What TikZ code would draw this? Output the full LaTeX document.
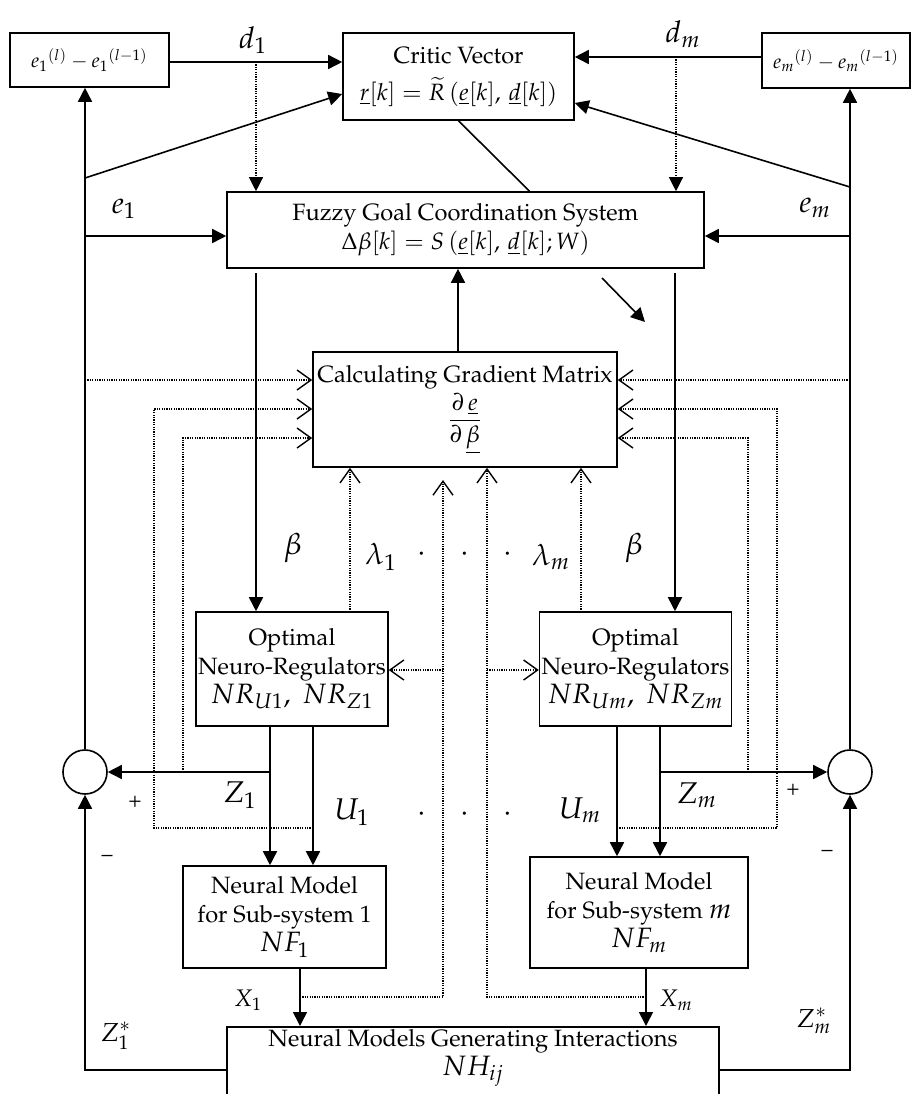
\documentclass[tikz,border=0pt]{standalone}
\usepackage[T1]{fontenc}
\usepackage{amsmath,amssymb}
\usepackage{mathpazo}
\usepackage{tikz}
\usetikzlibrary{arrows.meta,calc}
\newcommand{\blkfont}{\fontsize{11.8}{14.5}\selectfont}
\newcommand{\bigmath}{\fontsize{14}{16}\selectfont}
\tikzset{
  blk/.style={draw=black,line width=0.8pt,align=center,inner sep=1pt,font=\blkfont},
  sumnode/.style={circle,draw=black,line width=0.8pt,minimum size=22pt,inner sep=0pt},
  sline/.style={line width=0.8pt},
  sarr/.style={-{Triangle[length=7pt,width=7pt]},line width=0.8pt},
  dline/.style={line width=0.6pt,dash pattern=on 0.6pt off 0.6pt},
  dsarr/.style={dline,-{Triangle[length=7pt,width=7pt]}},
  darr/.style={dline,-{Straight Barb[length=7pt,width=10pt,line width=0.7pt]}},
  siglbl/.style={font={\fontsize{15}{17}\selectfont},inner sep=0pt},
  midlbl/.style={font={\fontsize{13}{15}\selectfont},inner sep=0pt},
  smlbl/.style={font={\fontsize{12}{14}\selectfont},inner sep=0pt},
  signlbl/.style={font={\fontsize{11}{13}\selectfont},inner sep=0pt},
}

\begin{document}
\begin{tikzpicture}[x=0.5pt,y=-0.5pt]
  \useasboundingbox (0,0) rectangle (912,1094);
  % top row
  \node[blk,minimum width=79.5pt,minimum height=27pt,font={\fontsize{10}{12}\selectfont}] (ed1) at (89.5,60)
    {$e_1{}^{(l)}-e_1{}^{(l-1)}$};
  \node[blk,minimum width=115.5pt,minimum height=43.5pt] (critic) at (458.5,76.5)
    {Critic Vector\\[4pt] $\underline{r}[k]=\widetilde{R}\,(\underline{e}[k],\,\underline{d}[k])$};
  \node[blk,minimum width=74pt,minimum height=27.5pt,font={\fontsize{10}{12}\selectfont}] (edm) at (836,60.5)
    {$e_m{}^{(l)}-e_m{}^{(l-1)}$};
  % coordination and gradient
  \node[blk,minimum width=238.5pt,minimum height=38pt] (fuzzy) at (465.5,230)
    {Fuzzy Goal Coordination System\\ $\Delta\beta[k]=S\,(\underline{e}[k],\,\underline{d}[k];W)$};
  \node[blk,minimum width=152pt,minimum height=57.5pt] (grad) at (465,409.5)
    {Calculating Gradient Matrix\\[1pt] $\dfrac{\partial\,\underline{e}}{\partial\,\underline{\beta}}$};
  % regulators
  \node[blk,minimum width=94pt,minimum height=57pt] (nr1) at (292,669)
    {Optimal\\ Neuro-Regulators\\ {\bigmath $NR_{U1},\ NR_{Z1}$}};
  \node[blk,minimum width=90.5pt,minimum height=57pt] (nrm) at (635.5,669)
    {Optimal\\ Neuro-Regulators\\ {\bigmath $NR_{Um},\ NR_{Zm}$}};
  % models
  \node[blk,minimum width=101.5pt,minimum height=51pt] (nf1) at (284.5,917)
    {Neural Model\\ for Sub-system 1\\ {\bigmath $NF_1$}};
  \node[blk,minimum width=109pt,minimum height=55.5pt] (nfm) at (639,912.5)
    {Neural Model\\ for Sub-system {\bigmath $m$}\\ {\bigmath $NF_m$}};
  \node[blk,minimum width=246pt,minimum height=43pt,anchor=north] (nh) at (473,1026) {};
  \node[font=\blkfont,align=center,inner sep=0pt] (nhtext) at (473,1058)
    {Neural Models Generating Interactions\\ {\bigmath $NH_{ij}$}};
  % summing points
  \node[sumnode] (sum1) at (85,772) {};
  \node[sumnode] (summ) at (850,772) {};

  % branch points
  \coordinate (d1tap) at (256,62);   \coordinate (dmtap) at (676,57);
  \coordinate (ltap1) at (85,178);   \coordinate (rtap1) at (850,187);
  \coordinate (ltap2) at (85,236);   \coordinate (rtap2) at (850,236);
  \coordinate (ltap3) at (85,380);   \coordinate (rtap3) at (850,380);
  \coordinate (b1top) at (256,273);  \coordinate (bmtop) at (675,273);
  \coordinate (da) at (602,278);     \coordinate (db) at (645,322);
  \coordinate (z1o) at (270,726);    \coordinate (u1o) at (313,726);
  \coordinate (umo) at (617,726);    \coordinate (zmo) at (660,726);
  \coordinate (z1tap) at (270,772);  \coordinate (zmtap) at (660,772);
  \coordinate (z1dot) at (183,772);  \coordinate (zmdot) at (748,772);
  \coordinate (u1tap) at (313,828);  \coordinate (umtap) at (617,828);
  \coordinate (l2c) at (154,409);    \coordinate (r2c) at (777,409);
  \coordinate (l3c) at (183,438);    \coordinate (r3c) at (748,438);
  \coordinate (lam1) at (350,612);   \coordinate (lamm) at (581,612);
  \coordinate (nf1o) at (300,968);   \coordinate (nfmo) at (646,968);
  \coordinate (x1tap) at (300,997);  \coordinate (xmtap) at (646,997);
  \coordinate (c1end) at (443,480);
  \coordinate (c1h) at (443,670);    \coordinate (c2h) at (487,670);

  % top connectors
  \draw[sarr] ([yshift=-1pt]ed1.east) -- ([yshift=-1pt]ed1.east -| critic.west);
  \draw[sarr] ([yshift=1.75pt]edm.west) -- ([yshift=1.75pt]edm.west -| critic.east);
  \draw[dsarr] (d1tap) -- (d1tap |- fuzzy.north);
  \draw[dsarr] (dmtap) -- (dmtap |- fuzzy.north);
  \draw[sline] (critic.south) -- ([xshift=32pt]fuzzy.north);
  % left loop
  \draw[sarr] (sum1.north) -- (sum1.north |- ed1.south);
  \draw[sarr] (ltap1) -- ([yshift=-8.75pt]critic.west);
  \draw[sarr] (ltap2) -- (ltap2 -| fuzzy.west);
  % right loop
  \draw[sarr] (summ.north) -- (summ.north |- edm.south);
  \draw[sarr] (rtap1) -- ([yshift=-13.25pt]critic.east);
  \draw[sarr] (rtap2) -- (rtap2 -| fuzzy.east);
  % coordination outputs
  \draw[sarr] (b1top) -- (b1top |- nr1.north);
  \draw[sarr] (bmtop) -- (bmtop |- nrm.north);
  \draw[sarr] ([xshift=-3.5pt]grad.north) -- ([xshift=-3.5pt]grad.north |- fuzzy.south);
  \draw[sarr] (da) -- (db);
  % gradient inputs
  \draw[darr] (ltap3) -- (ltap3 -| grad.west);
  \draw[darr] (u1tap) -| (l2c) -- (l2c -| grad.west);
  \draw[darr] (z1dot) -- (l3c) -- (l3c -| grad.west);
  \draw[darr] (rtap3) -- (rtap3 -| grad.east);
  \draw[darr] (umtap) -| (r2c) -- (r2c -| grad.east);
  \draw[darr] (zmdot) -- (r3c) -- (r3c -| grad.east);
  \draw[darr] (lam1) -- (lam1 |- grad.south);
  \draw[darr] (lamm) -- (lamm |- grad.south);
  \draw[darr] (x1tap) -| (c1end);
  \draw[darr] (xmtap) -| ([xshift=11pt]grad.south);
  \draw[darr] (c1h) -- (c1h -| nr1.east);
  \draw[darr] (c2h) -- (c2h -| nrm.west);
  % regulator outputs
  \draw[sarr] (z1o) -- (z1o |- nf1.north);
  \draw[sarr] (u1o) -- (u1o |- nf1.north);
  \draw[sarr] (umo) -- (umo |- nfm.north);
  \draw[sarr] (zmo) -- (zmo |- nfm.north);
  \draw[sarr] (z1tap) -- (sum1.east);
  \draw[sarr] (zmtap) -- (summ.west);
  % models
  \draw[sarr] (nf1o) -- (nf1o |- nh.north);
  \draw[sarr] (nfmo) -- (nfmo |- nh.north);
  \draw[sarr] (nh.west) -| (sum1.south);
  \draw[sarr] (nh.east) -| (summ.south);

  % signal labels
  \node[siglbl] (d1lbl) at (253,40) {$d_1$};
  \node[siglbl] (dmlbl) at (683,34) {$d_m$};
  \node[siglbl] (e1lbl) at (124,209) {$e_1$};
  \node[siglbl] (emlbl) at (815,208) {$e_m$};
  \node[siglbl] (b1lbl) at (293,548) {$\beta$};
  \node[siglbl] (bmlbl) at (634,548) {$\beta$};
  \node[siglbl] (l1lbl) at (381,557) {$\lambda_1$};
  \node[siglbl] (lmlbl) at (551,557) {$\lambda_m$};
  \node[siglbl] (dotl1) at (422,555) {$\cdot$};
  \node[siglbl] (dotl2) at (465,555) {$\cdot$};
  \node[siglbl] (dotl3) at (508,555) {$\cdot$};
  \node[siglbl] (z1lbl) at (240,795) {$Z_1$};
  \node[siglbl] (u1lbl) at (352,812) {$U_1$};
  \node[siglbl] (umlbl) at (580,810) {$U_m$};
  \node[siglbl] (zmlbl) at (697,795) {$Z_m$};
  \node[siglbl] (dotu1) at (422,815) {$\cdot$};
  \node[siglbl] (dotu2) at (465,815) {$\cdot$};
  \node[siglbl] (dotu3) at (508,815) {$\cdot$};
  \node[signlbl] (p1lbl) at (135,802) {+};
  \node[signlbl] (m1lbl) at (107,858) {--};
  \node[signlbl] (pmlbl) at (793,790) {+};
  \node[signlbl] (mmlbl) at (827,853) {--};
  \node[smlbl] (x1lbl) at (248,1000) {$X_1$};
  \node[smlbl] (xmlbl) at (676,1000) {$X_m$};
  \node[midlbl] (zs1lbl) at (116,1036) {$Z_1^{*}$};
  \node[midlbl] (zsmlbl) at (814,1021) {$Z_m^{*}$};
\end{tikzpicture}
\end{document}
